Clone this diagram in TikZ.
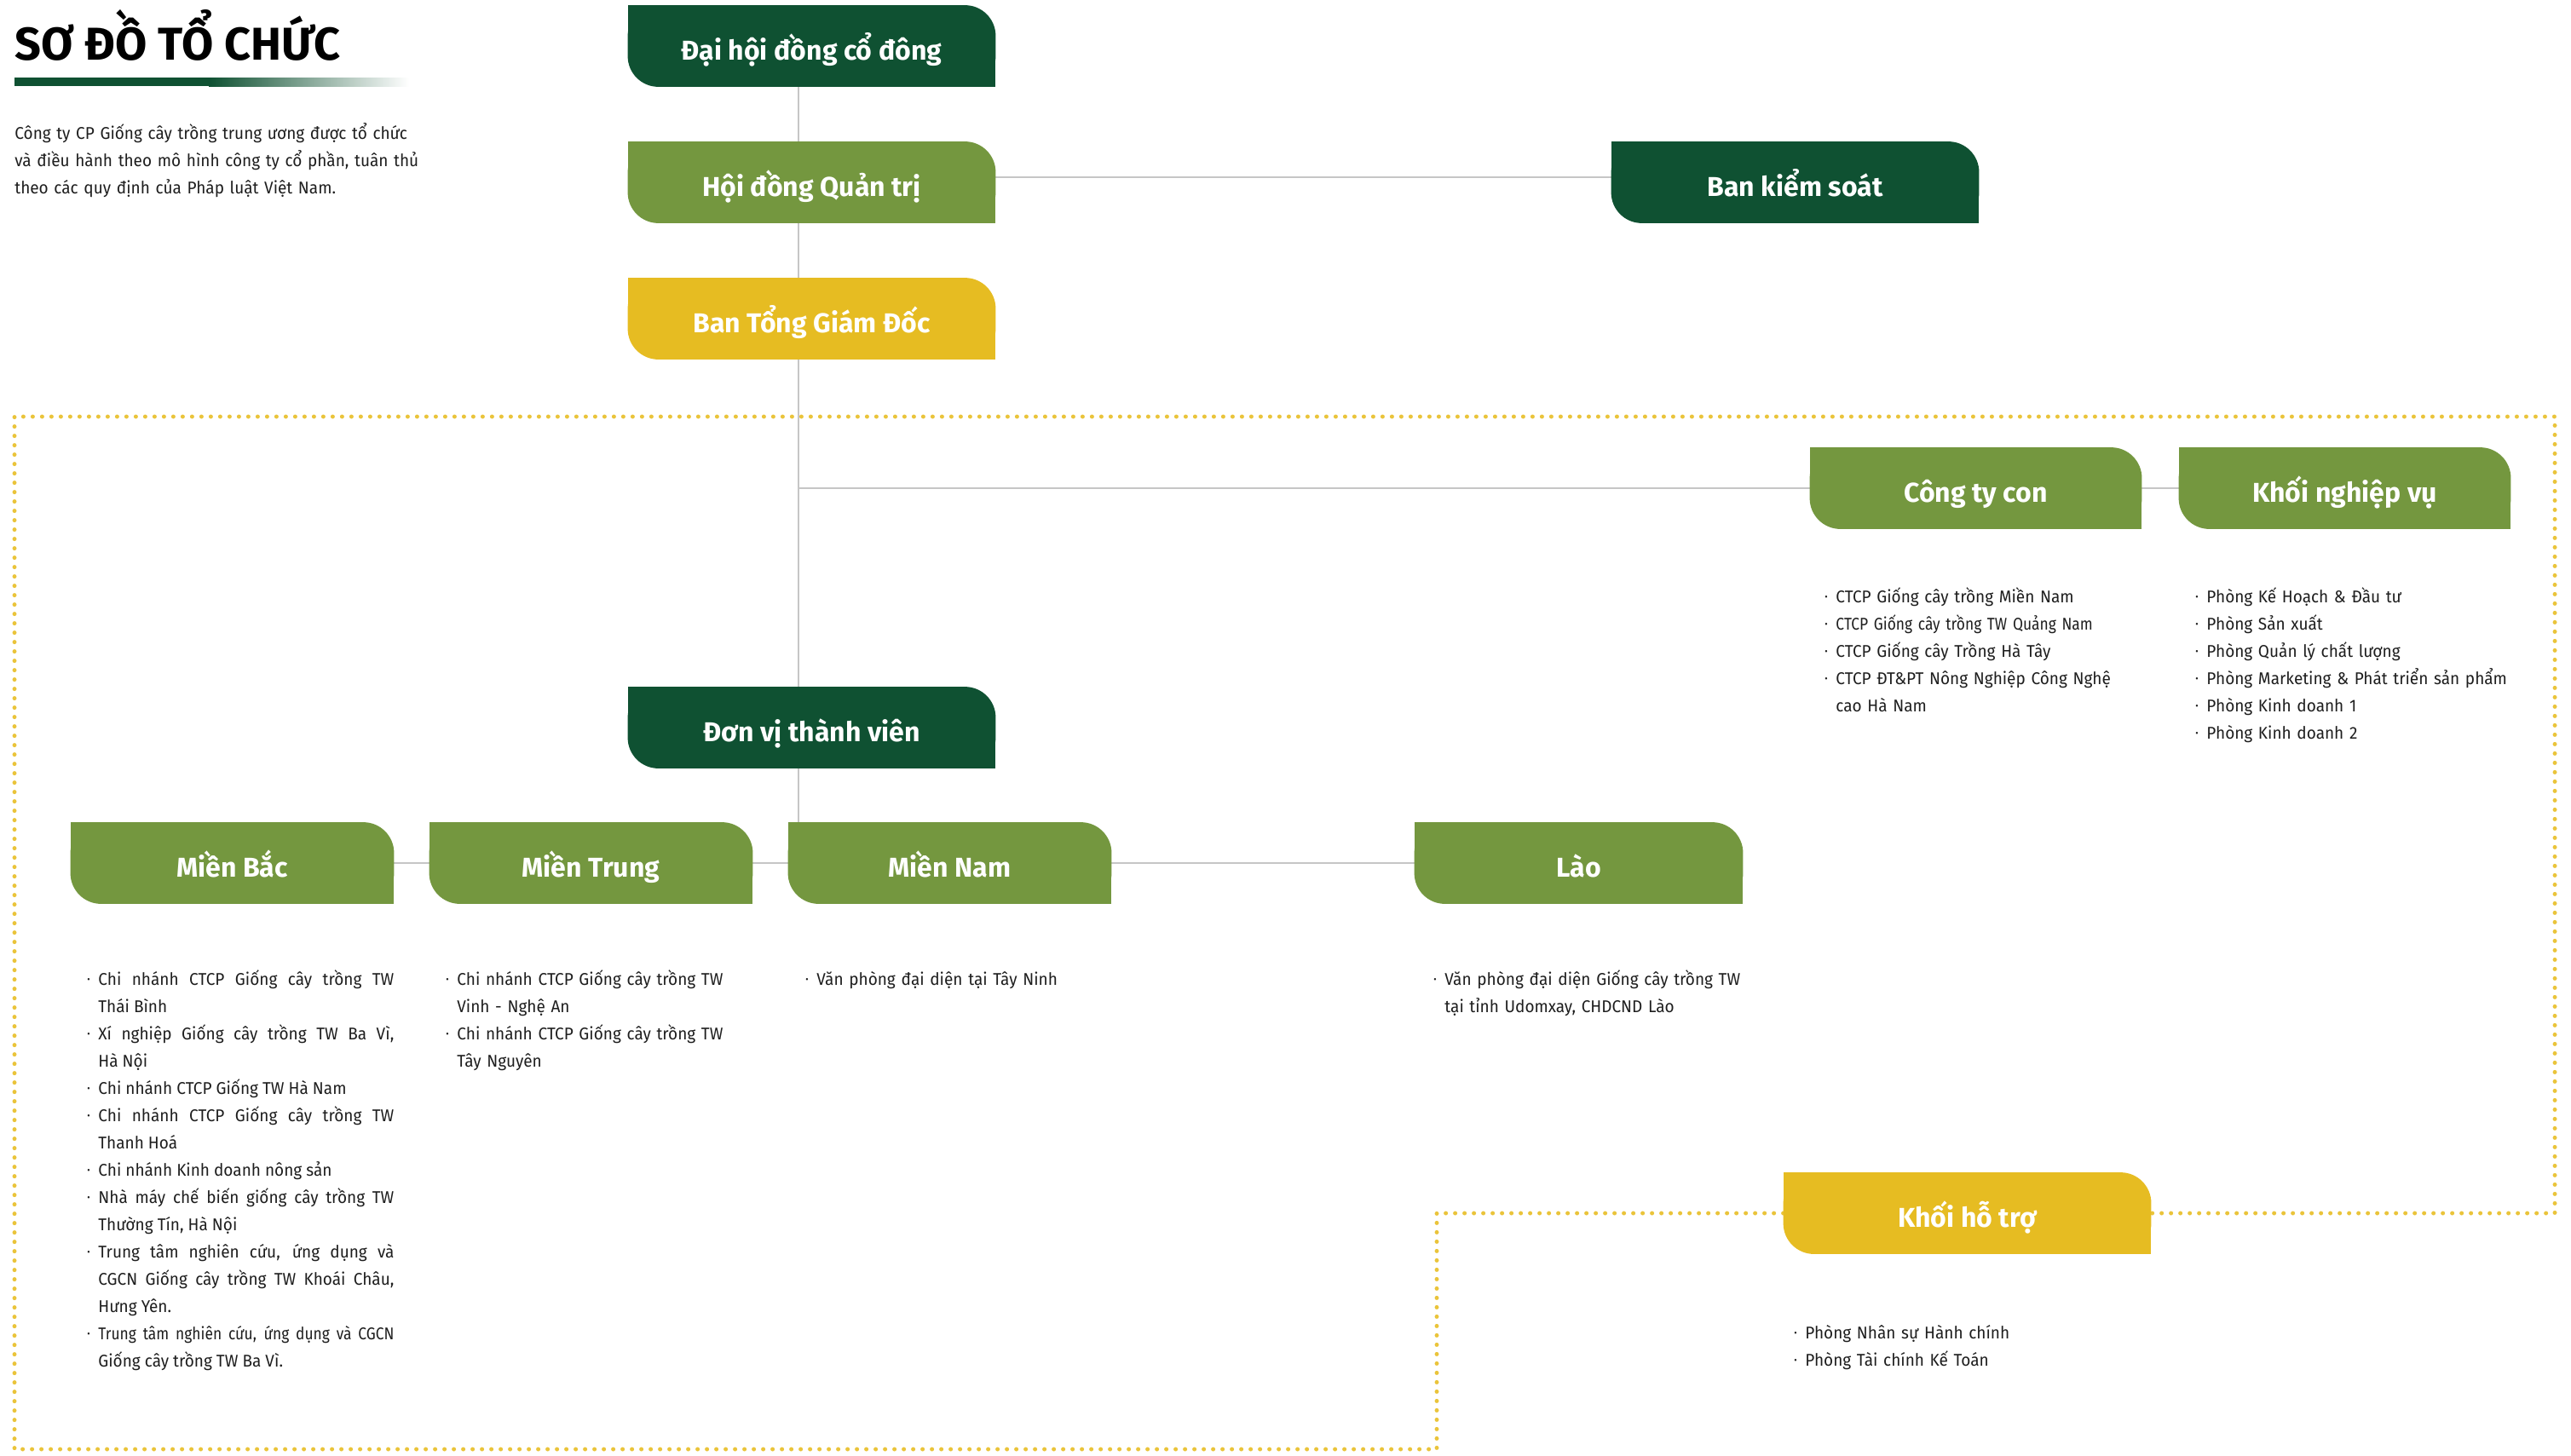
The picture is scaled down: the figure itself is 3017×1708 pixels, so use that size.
\documentclass[tikz,border=0pt]{standalone}
\usepackage{fontspec}
\setmainfont{Fira Sans}
\newfontfamily\bodyfont[FakeStretch=0.95]{Fira Sans}
\newfontfamily\narrowfont[FakeStretch=0.87]{Fira Sans}
\usetikzlibrary{backgrounds}

\definecolor{dkgreen}{HTML}{0F5132}
\definecolor{leafgreen}{HTML}{74973F}
\definecolor{gold}{HTML}{E6BC22}
\definecolor{dotgold}{HTML}{EAC43B}
\definecolor{linegray}{HTML}{C6C6C6}
\definecolor{ink}{HTML}{1E1E1E}

\newcommand\itm{\noindent\hangindent=6.5pt\hangafter=1%
  \makebox[6.5pt][l]{\raisebox{.25ex}{\scalebox{.55}{\textbullet}}}}
\newcommand\leaf[2]{%
  \fill[#2,rounded corners=18pt] (#1.south west) rectangle (#1.north east);
  \fill[#2] (#1.north west) rectangle (#1.center);
  \fill[#2] (#1.center) rectangle (#1.south east);}

\begin{document}
\begin{tikzpicture}[x=0.5pt,y=-0.5pt]
  \tikzset{
    unit/.style={minimum width=189.5pt,minimum height=47.5pt,inner sep=0pt,
      text height=17pt,text depth=1pt,text=white,font=\bfseries\fontsize{16}{18}\selectfont},
    board/.style={unit,minimum width=215.5pt},
    items/.style={anchor=base west,inner sep=0pt,text width=#1,align=left,
      text=ink,font=\bodyfont\fontsize{10}{16}\selectfont},
    link/.style={draw=linegray,line width=1pt},
    dotline/.style={draw=dotgold,line width=2.5pt,line cap=round,dash pattern=on 0pt off 5.5pt}
  }
  \useasboundingbox (0,0) rectangle (3017,1708);

  \node[anchor=base west,inner sep=0pt,text=black,font=\bfseries\fontsize{27}{30}\selectfont]
    (title) at (17,70) {SƠ ĐỒ TỔ CHỨC};
  \fill[dkgreen] (17,91) rectangle (245,101);
  \shade[left color=dkgreen,right color=white] (245,91) rectangle (480,101);
  \node[items=260pt] (intro) at (17,163) {Công ty CP Giống cây trồng trung ương được tổ chức\\
    và điều hành theo mô hình công ty cổ phần, tuân thủ\\ theo các quy định của Pháp luật Việt Nam.};

  \node[board] (dhd) at (952.5,54) {Đại hội đồng cổ đông};
  \node[board] (hdqt) at (952.5,214) {Hội đồng Quản trị};
  \node[board] (btgd) at (952.5,374) {Ban Tổng Giám Đốc};
  \node[board] (bks) at (2106.5,214) {Ban kiểm soát};
  \node[unit,minimum width=194.5pt] (ctycon) at (2318.5,573) {Công ty con};
  \node[unit,minimum width=194.5pt] (knv) at (2751.5,573) {Khối nghiệp vụ};
  \node[board] (dvtv) at (952.5,854) {Đơn vị thành viên};
  \node[unit] (mbac) at (272.5,1013) {Miền Bắc};
  \node[unit] (mtrung) at (693.5,1013) {Miền Trung};
  \node[unit] (mnam) at (1114.5,1013) {Miền Nam};
  \node[unit,minimum width=192.5pt] (lao) at (1852.5,1013) {Lào};
  \node[board] (khtro) at (2308.5,1424) {Khối hỗ trợ};

  \node[items=180pt,align=justify] (mbaclist) at (102,1156) {\tolerance=9999
    \itm Chi nhánh CTCP Giống cây trồng TW\linebreak Thái Bình\par
    \itm Xí nghiệp Giống cây trồng TW Ba Vì,\linebreak Hà Nội\par
    \itm Chi nhánh CTCP Giống TW Hà Nam\par
    \itm Chi nhánh CTCP Giống cây trồng TW\linebreak Thanh Hoá\par
    \itm Chi nhánh Kinh doanh nông sản\par
    \itm Nhà máy chế biến giống cây trồng TW\linebreak Thường Tín, Hà Nội\par
    \itm Trung tâm nghiên cứu, ứng dụng và\linebreak CGCN Giống cây trồng TW Khoái Châu,\linebreak Hưng Yên.\par
    \itm {\narrowfont Trung tâm nghiên cứu, ứng dụng và CGCN}\linebreak Giống cây trồng TW Ba Vì.\par};
  \node[items=200pt] (mtrunglist) at (523,1156) {
    \itm Chi nhánh CTCP Giống cây trồng TW\linebreak Vinh - Nghệ An\par
    \itm Chi nhánh CTCP Giống cây trồng TW\linebreak Tây Nguyên\par};
  \node[items=200pt] (mnamlist) at (945,1156) {\itm Văn phòng đại diện tại Tây Ninh\par};
  \node[items=200pt] (laolist) at (1682,1156) {
    \itm Văn phòng đại diện Giống cây trồng TW\linebreak tại tỉnh Udomxay, CHDCND Lào\par};
  \node[items=200pt] (ctyconlist) at (2141,707) {
    \itm CTCP Giống cây trồng Miền Nam\par
    \itm {\narrowfont CTCP Giống cây trồng TW Quảng Nam}\par
    \itm CTCP Giống cây Trồng Hà Tây\par
    \itm CTCP ĐT\&PT Nông Nghiệp Công Nghệ\linebreak cao Hà Nam\par};
  \node[items=200pt] (knvlist) at (2576,707) {
    \itm Phòng Kế Hoạch \& Đầu tư\par
    \itm Phòng Sản xuất\par
    \itm Phòng Quản lý chất lượng\par
    \itm Phòng Marketing \& Phát triển sản phẩm\par
    \itm Phòng Kinh doanh 1\par
    \itm Phòng Kinh doanh 2\par};
  \node[items=200pt] (khtrolist) at (2105,1571) {
    \itm Phòng Nhân sự Hành chính\par
    \itm Phòng Tài chính Kế Toán\par};

  \begin{scope}[on background layer]
    \draw[dotline] (khtro.west) -- (1686,1424) -- (1686,1701) -- (17,1701) -- (17,489)
      -- (2998,489) -- (2998,1424) -- (khtro.east);
    \coordinate (spine) at (937,0);
    \draw[link] (dhd.south -| spine) -- (mnam.north -| spine);
    \draw[link] ([yshift=3pt]hdqt.east) -- ([yshift=3pt]bks.west);
    \draw[link] (spine |- ctycon) -- (ctycon.west);
    \draw[link] (ctycon.east) -- (knv.west);
    \draw[link] (mbac.east) -- (mtrung.west);
    \draw[link] (mtrung.east) -- (mnam.west);
    \draw[link] (mnam.east) -- (lao.west);
    \leaf{dhd}{dkgreen}
    \leaf{hdqt}{leafgreen}
    \leaf{btgd}{gold}
    \leaf{bks}{dkgreen}
    \leaf{ctycon}{leafgreen}
    \leaf{knv}{leafgreen}
    \leaf{dvtv}{dkgreen}
    \leaf{mbac}{leafgreen}
    \leaf{mtrung}{leafgreen}
    \leaf{mnam}{leafgreen}
    \leaf{lao}{leafgreen}
    \leaf{khtro}{gold}
  \end{scope}
\end{tikzpicture}
\end{document}
